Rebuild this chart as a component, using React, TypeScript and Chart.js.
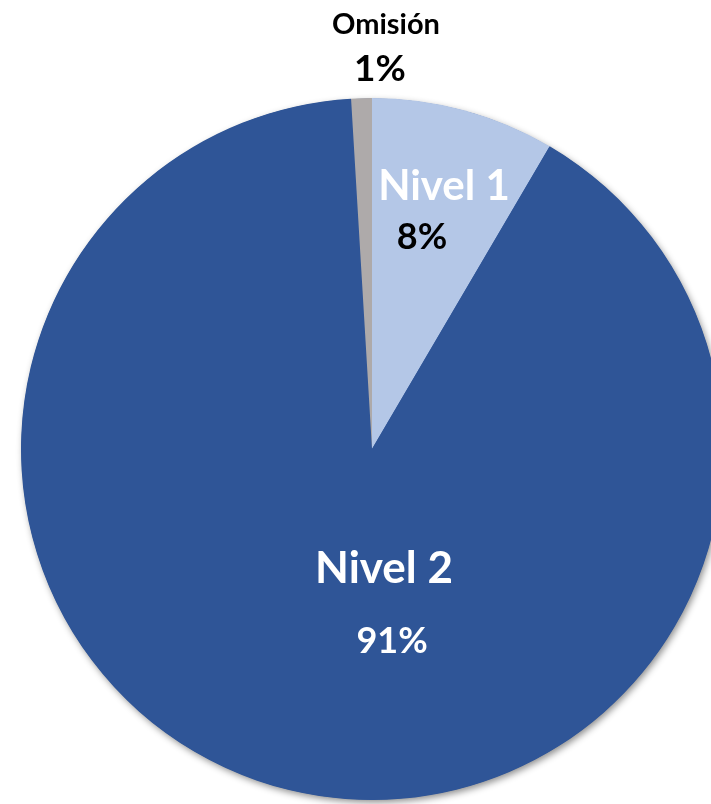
import React, { useEffect, useRef } from "react";
import { Chart, registerables } from "chart.js";

Chart.register(...registerables);

const categories = ["Nivel 1", "Nivel 2", "Omisión"];
const values = [8.45, 90.6, 0.95];
const percentLabels = ["8%", "91%", "1%"];
const colors = ["#B4C7E7", "#2F5597", "#AEAAAA"];

// label styling per slice
const labelRadius = [0.7, 0.5, 1.1];
const nameOffset = [[7.5, -25], [53, -51], [25.5, -38]];
const pctOffset = [[-14.5, 25], [61, 22], [19.5, 6]];
const nameColor = ["#FFFFFF", "#FFFFFF", "#000000"];
const pctColor = ["#000000", "#FFFFFF", "#000000"];
const nameSize = [42, 44, 29];
const pctSize = [36, 36, 37];

const FONT = "Lato, 'Open Sans', sans-serif";

const shadowPlugin = {
  id: "pieShadow",
  beforeDatasetsDraw(chart: any) {
    const meta = chart.getDatasetMeta(0);
    const arc = meta.data[0];
    if (!arc) return;
    const { x, y, outerRadius } = arc.getProps(["x", "y", "outerRadius"], true);
    const ctx = chart.ctx;
    ctx.save();
    ctx.shadowColor = "rgba(0,0,0,0.45)";
    ctx.shadowBlur = 7;
    ctx.shadowOffsetX = 2;
    ctx.shadowOffsetY = 3;
    ctx.beginPath();
    ctx.arc(x, y, outerRadius - 0.5, 0, Math.PI * 2);
    ctx.fillStyle = colors[1];
    ctx.fill();
    ctx.restore();
  },
};

const labelPlugin = {
  id: "sliceLabels",
  afterDatasetsDraw(chart: any) {
    const meta = chart.getDatasetMeta(0);
    const ctx = chart.ctx;
    ctx.save();
    ctx.textAlign = "center";
    ctx.textBaseline = "middle";
    meta.data.forEach((arc: any, i: number) => {
      const { x, y, startAngle, endAngle, outerRadius } = arc.getProps(
        ["x", "y", "startAngle", "endAngle", "outerRadius"],
        true
      );
      const mid = (startAngle + endAngle) / 2;
      const r = outerRadius * labelRadius[i];
      const ax = x + Math.cos(mid) * r;
      const ay = y + Math.sin(mid) * r;
      ctx.font = `bold ${nameSize[i]}px ${FONT}`;
      ctx.fillStyle = nameColor[i];
      ctx.fillText(categories[i], ax + nameOffset[i][0], ay + nameOffset[i][1]);
      ctx.font = `bold ${pctSize[i]}px ${FONT}`;
      ctx.fillStyle = pctColor[i];
      ctx.fillText(percentLabels[i], ax + pctOffset[i][0], ay + pctOffset[i][1]);
    });
    ctx.restore();
  },
};

export default function App() {
  const ref = useRef<HTMLCanvasElement>(null);
  useEffect(() => {
    if (!ref.current) return;
    const chart = new Chart(ref.current, {
      type: "pie",
      data: {
        labels: categories,
        datasets: [
          {
            data: values,
            backgroundColor: colors,
            borderWidth: 0,
          },
        ],
      },
      options: {
        animation: false,
        responsive: false,
        devicePixelRatio: 1,
        layout: { padding: { left: 21, right: 21, top: 98, bottom: 10 } },
        plugins: {
          legend: { display: false },
          tooltip: { enabled: false },
        },
      },
      plugins: [shadowPlugin, labelPlugin],
    });
    return () => chart.destroy();
  }, []);
  return (
    <canvas
      ref={ref}
      width={744}
      height={810}
      style={{ position: "fixed", left: 0, top: 0, width: 744, height: 810 }}
    />
  );
}
